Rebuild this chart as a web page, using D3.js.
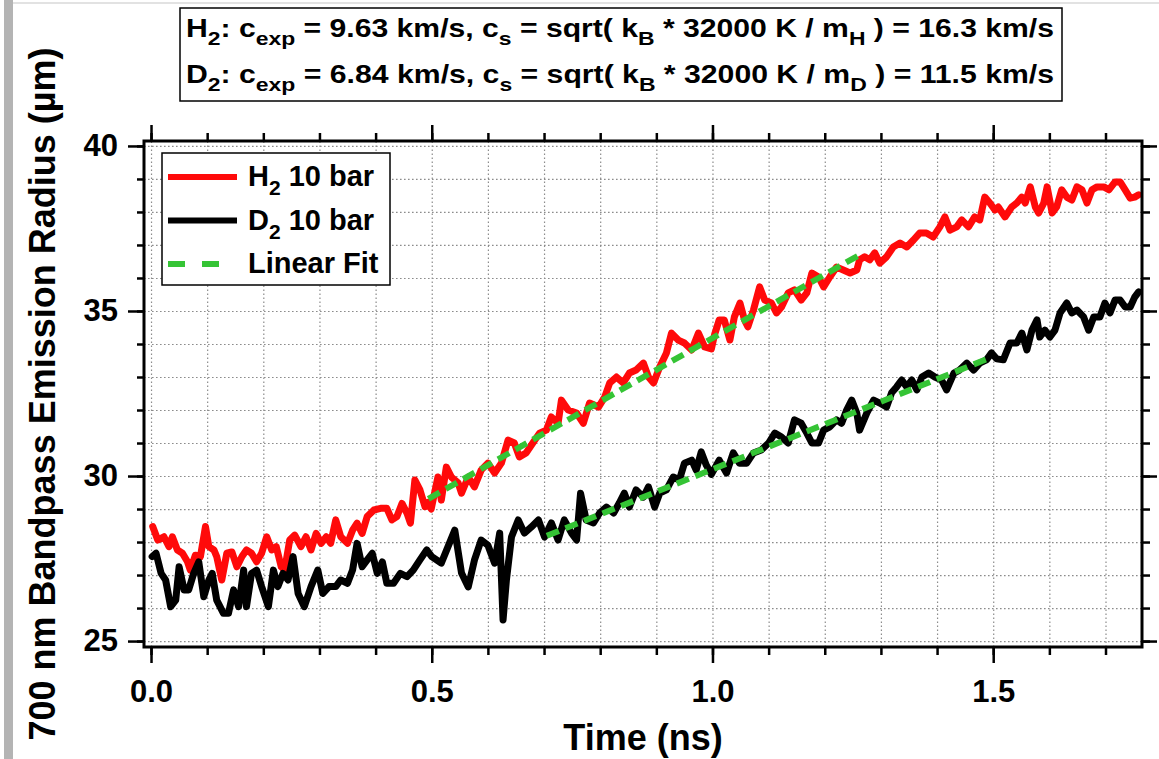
<!DOCTYPE html>
<html>
<head>
<meta charset="utf-8">
<script src="https://cdn.jsdelivr.net/npm/d3@7"></script>
<style>
	body { margin: 0; background: #fff; }
	text { font-family: "Liberation Sans", Arial, sans-serif; font-weight: bold; fill: #000; }
</style>
</head>
<body>
<div id="chart"></div>
<script>
// H2 10 bar trace (time in ns, radius in um)
const h2Time = [0.003,0.012,0.023,0.032,0.038,0.047,0.056,0.065,0.070,0.079,0.088,0.097,0.103,0.112,0.117,0.126,0.135,0.144,0.153,0.162,0.170,0.179,0.188,0.197,0.206,0.215,0.223,0.232,0.238,0.247,0.256,0.267,0.276,0.285,0.294,0.303,0.312,0.320,0.329,0.338,0.350,0.359,0.367,0.376,0.385,0.397,0.409,0.420,0.429,0.438,0.447,0.456,0.462,0.470,0.479,0.488,0.493,0.499,0.511,0.517,0.526,0.535,0.547,0.553,0.565,0.576,0.588,0.600,0.612,0.624,0.636,0.647,0.656,0.668,0.680,0.692,0.704,0.713,0.725,0.731,0.743,0.758,0.770,0.781,0.797,0.808,0.817,0.829,0.841,0.852,0.864,0.877,0.886,0.895,0.906,0.918,0.927,0.939,0.950,0.963,0.975,0.986,0.998,1.004,1.012,1.021,1.031,1.039,1.049,1.057,1.063,1.073,1.084,1.093,1.105,1.114,1.123,1.135,1.146,1.158,1.168,1.177,1.189,1.198,1.209,1.221,1.233,1.245,1.257,1.262,1.271,1.280,1.289,1.298,1.310,1.322,1.334,1.346,1.358,1.369,1.381,1.393,1.405,1.414,1.423,1.435,1.444,1.456,1.467,1.476,1.485,1.494,1.503,1.509,1.521,1.533,1.542,1.551,1.557,1.566,1.575,1.581,1.590,1.596,1.605,1.613,1.622,1.631,1.640,1.649,1.658,1.667,1.676,1.685,1.697,1.706,1.717,1.726,1.735,1.744,1.752,1.759];
const h2Radius = [28.47,28.06,28.16,27.86,28.16,27.76,27.66,27.40,27.15,27.60,27.56,28.47,27.86,27.76,27.56,26.85,27.66,27.70,27.25,27.56,27.76,27.66,27.40,27.66,28.16,27.76,27.86,27.25,27.15,28.06,28.21,27.86,28.16,27.76,28.26,27.96,28.16,27.96,28.67,28.16,27.96,28.36,28.57,28.26,28.77,28.97,29.02,29.02,28.67,28.77,29.17,28.87,28.57,29.88,29.58,29.07,29.20,29.00,29.97,29.27,30.27,29.97,29.79,29.48,29.97,29.67,30.18,30.39,30.09,30.39,31.09,31.00,30.58,30.70,31.00,31.30,31.39,31.79,31.60,32.30,32.00,31.91,31.60,32.21,32.09,32.39,32.82,33.00,32.82,33.12,33.21,33.42,33.00,32.82,33.30,33.73,34.33,34.12,34.03,33.82,34.33,33.91,33.85,34.30,34.73,34.73,34.12,34.82,35.24,34.73,34.52,35.03,35.73,35.33,35.24,34.94,35.12,35.55,35.64,35.33,35.55,36.15,36.03,35.73,36.03,36.33,36.24,36.15,36.24,36.55,36.64,36.55,36.76,36.45,36.64,36.94,37.06,36.94,37.15,37.36,37.36,37.24,37.55,37.85,37.45,37.55,37.76,37.55,37.85,37.76,38.45,38.27,38.06,38.15,37.85,38.15,38.27,38.45,38.27,38.76,38.15,37.97,38.27,38.76,37.97,38.15,38.67,38.45,38.36,38.76,38.67,38.27,38.67,38.76,38.76,38.67,38.91,38.91,38.67,38.42,38.45,38.52];

// D2 10 bar trace
const d2Time = [0.002,0.009,0.018,0.026,0.035,0.044,0.050,0.059,0.067,0.076,0.085,0.094,0.103,0.109,0.117,0.129,0.138,0.147,0.156,0.165,0.170,0.179,0.188,0.197,0.209,0.218,0.226,0.235,0.244,0.253,0.262,0.273,0.285,0.297,0.306,0.317,0.329,0.338,0.350,0.359,0.367,0.376,0.385,0.394,0.403,0.412,0.420,0.432,0.444,0.456,0.467,0.479,0.491,0.500,0.517,0.541,0.553,0.565,0.576,0.588,0.600,0.612,0.621,0.627,0.633,0.642,0.654,0.665,0.677,0.690,0.701,0.713,0.725,0.736,0.749,0.758,0.765,0.775,0.788,0.799,0.811,0.824,0.834,0.843,0.852,0.864,0.877,0.886,0.897,0.906,0.918,0.930,0.941,0.950,0.963,0.971,0.980,0.989,0.998,1.012,1.025,1.037,1.048,1.061,1.073,1.087,1.100,1.111,1.123,1.135,1.146,1.158,1.168,1.177,1.189,1.198,1.209,1.221,1.230,1.239,1.248,1.257,1.262,1.275,1.287,1.298,1.310,1.319,1.328,1.337,1.346,1.355,1.364,1.373,1.385,1.396,1.408,1.417,1.430,1.440,1.453,1.465,1.476,1.488,1.497,1.506,1.518,1.530,1.542,1.551,1.560,1.569,1.578,1.583,1.592,1.601,1.610,1.619,1.631,1.640,1.649,1.661,1.670,1.679,1.690,1.699,1.708,1.717,1.726,1.735,1.744,1.752,1.759];
const d2Radius = [27.56,27.66,27.05,26.85,26.04,26.24,27.25,26.55,26.55,27.05,27.40,26.34,26.85,27.05,26.24,25.84,25.84,26.55,26.04,27.15,26.04,27.05,27.15,26.65,26.04,27.15,26.65,27.05,26.85,27.56,26.44,26.04,26.65,27.15,26.44,26.65,26.65,26.85,26.75,27.15,27.96,27.25,27.46,27.66,27.05,27.40,26.75,26.75,27.05,26.95,27.15,27.46,27.76,27.56,27.36,28.36,27.06,26.64,27.45,28.06,27.90,27.36,28.27,25.64,26.85,28.15,28.67,28.27,28.45,28.67,28.15,28.58,28.06,28.67,28.27,28.06,29.48,28.67,28.58,28.88,29.06,28.88,29.18,29.48,29.06,29.58,29.36,29.67,29.06,29.48,29.58,29.97,29.88,30.39,30.48,30.18,30.73,30.33,30.05,30.48,30.09,30.70,30.39,30.39,30.70,30.79,31.00,31.30,31.18,31.00,31.70,31.60,31.30,31.00,31.00,31.39,31.49,31.70,31.60,32.00,32.30,31.91,31.39,31.91,32.30,32.21,32.09,32.52,32.70,32.91,32.70,32.91,32.61,33.00,33.12,33.00,32.91,32.61,33.12,33.21,33.42,33.21,33.42,33.52,33.73,33.55,33.52,34.03,34.03,34.33,33.82,34.42,34.73,34.21,34.42,34.21,34.42,34.94,35.24,34.94,35.03,34.82,34.42,34.82,34.82,35.24,34.94,35.33,35.33,35.12,35.12,35.42,35.58];

// linear fit end points
const h2FitTime = [0.494, 1.262];
const h2FitRadius = [29.31, 36.70];
const d2FitTime = [0.705, 1.490];
const d2FitRadius = [28.19, 33.55];

const X_MAJOR = [0.0, 0.5, 1.0, 1.5];
const X_MINOR = [0.0, 0.1, 0.2, 0.3, 0.4, 0.5, 0.6, 0.7, 0.8, 0.9, 1.0, 1.1, 1.2, 1.3, 1.4, 1.5, 1.6, 1.7];
const Y_MAJOR = [25, 30, 35, 40];
const Y_MINOR = [25, 26, 27, 28, 29, 30, 31, 32, 33, 34, 35, 36, 37, 38, 39, 40];

const LEGEND_LABELS = [['H', '2', ' 10 bar'], ['D', '2', ' 10 bar'], ['Linear Fit', '', '']];

const COLORS = { h2: '#ff0a0a', d2: '#000000', fit: '#35c435', grid: '#8c8c8c' };
const MARGIN = { top: 141, right: 17, bottom: 112, left: 144 };
const WIDTH = 1159 - MARGIN.left - MARGIN.right;
const HEIGHT = 759 - MARGIN.top - MARGIN.bottom;

const root = d3.select('#chart')
	.append('svg')
		.attr('width', 1159)
		.attr('height', 759);

// window border on the left edge
root.append('rect')
	.attr('x', 4).attr('y', 0).attr('width', 9).attr('height', 759)
	.attr('fill', '#b4b4b4');
root.append('line')
	.attr('x1', 13).attr('x2', 1159).attr('y1', 3).attr('y2', 3)
	.attr('stroke', '#d8d8d8').attr('stroke-width', 1.5);

const svg = root.append('g')
	.attr('transform', `translate(${MARGIN.left}, ${MARGIN.top})`);

const x = d3.scaleLinear().domain([-0.0125, 1.765]).range([0, WIDTH]);
const y = d3.scaleLinear().domain([24.82, 40.15]).range([HEIGHT, 0]);

// dotted grid
svg.append('g')
	.attr('transform', `translate(0, ${HEIGHT})`)
	.call(d3.axisBottom(x).tickValues(X_MINOR).tickSize(-HEIGHT).tickFormat(''))
	.call(g => g.select('.domain').remove());
svg.append('g')
	.call(d3.axisLeft(y).tickValues(Y_MINOR).tickSize(-WIDTH).tickFormat(''))
	.call(g => g.select('.domain').remove());
svg.selectAll('.tick line')
	.attr('stroke', COLORS.grid)
	.attr('stroke-width', 1.2)
	.attr('stroke-dasharray', '1.6,2.4');

const line = d3.line()
	.x(d => x(d[0]))
	.y(d => y(d[1]));

svg.append('path')
	.datum(d3.zip(h2Time, h2Radius))
	.attr('d', line)
	.attr('fill', 'none')
	.attr('stroke', COLORS.h2)
	.attr('stroke-width', 7)
	.attr('stroke-linejoin', 'round')
	.attr('stroke-linecap', 'round');

svg.append('path')
	.datum(d3.zip(d2Time, d2Radius))
	.attr('d', line)
	.attr('fill', 'none')
	.attr('stroke', COLORS.d2)
	.attr('stroke-width', 7)
	.attr('stroke-linejoin', 'round')
	.attr('stroke-linecap', 'round');

[d3.zip(h2FitTime, h2FitRadius), d3.zip(d2FitTime, d2FitRadius)].forEach(fit => {
	svg.append('path')
		.datum(fit)
		.attr('d', line)
		.attr('fill', 'none')
		.attr('stroke', COLORS.fit)
		.attr('stroke-width', 6)
		.attr('stroke-dasharray', '13,7');
});

// frame
svg.append('rect')
	.attr('width', WIDTH).attr('height', HEIGHT)
	.attr('fill', 'none')
	.attr('stroke', '#000')
	.attr('stroke-width', 3);

// tick marks on all four sides
function ticks(axisFn, values, size, transform) {
	const g = svg.append('g')
		.attr('transform', transform)
		.call(axisFn.tickValues(values).tickSize(size).tickFormat(''));
	g.select('.domain').remove();
	g.selectAll('.tick line').attr('stroke', '#000').attr('stroke-width', 2.5);
	return g;
}
ticks(d3.axisBottom(x), X_MINOR, 8, `translate(0, ${HEIGHT})`);
ticks(d3.axisBottom(x), X_MAJOR, 16, `translate(0, ${HEIGHT})`);
ticks(d3.axisTop(x), X_MINOR, 8, 'translate(0, 0)');
ticks(d3.axisTop(x), X_MAJOR, 16, 'translate(0, 0)');
ticks(d3.axisLeft(y), Y_MINOR, 7, 'translate(0, 0)');
ticks(d3.axisLeft(y), Y_MAJOR, 16, 'translate(0, 0)');
ticks(d3.axisRight(y), Y_MINOR, 8, `translate(${WIDTH}, 0)`);
ticks(d3.axisRight(y), Y_MAJOR, 15, `translate(${WIDTH}, 0)`);

// tick labels
svg.append('g')
	.attr('transform', `translate(0, ${HEIGHT})`)
	.call(d3.axisBottom(x).tickValues(X_MAJOR).tickSize(16).tickPadding(17).tickFormat(d3.format('.1f')))
	.call(g => g.select('.domain').remove())
	.call(g => g.selectAll('line').remove())
	.selectAll('text')
		.attr('font-size', 31)
		.attr('font-weight', 'bold')
		.attr('font-family', null);

svg.append('g')
	.call(d3.axisLeft(y).tickValues(Y_MAJOR).tickSize(16).tickPadding(10))
	.call(g => g.select('.domain').remove())
	.call(g => g.selectAll('line').remove())
	.selectAll('text')
		.attr('font-size', 31)
		.attr('font-weight', 'bold')
		.attr('font-family', null);

// axis titles
root.append('text')
	.attr('x', MARGIN.left + WIDTH / 2)
	.attr('y', 750)
	.attr('text-anchor', 'middle')
	.attr('font-size', 36)
	.text('Time (ns)');

root.append('text')
	.attr('transform', 'translate(55, 394) rotate(-90)')
	.attr('text-anchor', 'middle')
	.attr('font-size', 36)
	.text('700 nm Bandpass Emission Radius (µm)');

// legend
const legend = root.append('g');
legend.append('rect')
	.attr('x', 162).attr('y', 153).attr('width', 228).attr('height', 132)
	.attr('fill', '#fff')
	.attr('stroke', '#000')
	.attr('stroke-width', 1.5);

const legendRows = [
	{ color: COLORS.h2, dash: null, label: LEGEND_LABELS[0] },
	{ color: COLORS.d2, dash: null, label: LEGEND_LABELS[1] },
	{ color: COLORS.fit, dash: '17,17', label: LEGEND_LABELS[2] }
];
legendRows.forEach((row, i) => {
	const cy = 177 + i * 43.5;
	legend.append('line')
		.attr('x1', 168).attr('x2', row.dash ? 219 : 237)
		.attr('y1', cy).attr('y2', cy)
		.attr('stroke', row.color)
		.attr('stroke-width', 6)
		.attr('stroke-dasharray', row.dash);
	const t = legend.append('text')
		.attr('x', 248).attr('y', cy + 9)
		.attr('font-size', 29);
	t.append('tspan').text(row.label[0]);
	if (row.label[1]) {
		t.append('tspan').attr('dy', 9).attr('font-size', 21).text(row.label[1]);
		t.append('tspan').attr('dy', -9).text(row.label[2]);
	}
});

// annotation box
const NOTE_LINES = [
	[['H', 0], ['2', 1], [': c', 0], ['exp', 1], [' = 9.63 km/s, c', 0], ['s', 1], [' = sqrt( k', 0], ['B', 1], [' * 32000 K / m', 0], ['H', 1], [' ) = 16.3 km/s', 0]],
	[['D', 0], ['2', 1], [': c', 0], ['exp', 1], [' = 6.84 km/s, c', 0], ['s', 1], [' = sqrt( k', 0], ['B', 1], [' * 32000 K / m', 0], ['D', 1], [' ) = 11.5 km/s', 0]]
];
root.append('rect')
	.attr('x', 180).attr('y', 8).attr('width', 882).attr('height', 93)
	.attr('fill', '#fff')
	.attr('stroke', '#000')
	.attr('stroke-width', 1.5);

NOTE_LINES.forEach((parts, i) => {
	const t = root.append('text')
		.attr('x', 186)
		.attr('y', 37 + i * 46)
		.attr('font-size', 25);
	let sub = 0;
	parts.forEach(([s, isSub]) => {
		const span = t.append('tspan').text(s);
		if (isSub !== sub) {
			span.attr('dy', isSub ? 8 : -8);
			sub = isSub;
		}
		if (isSub) span.attr('font-size', 19);
	});
	t.attr('textLength', 868).attr('lengthAdjust', 'spacingAndGlyphs');
});
</script>
</body>
</html>
